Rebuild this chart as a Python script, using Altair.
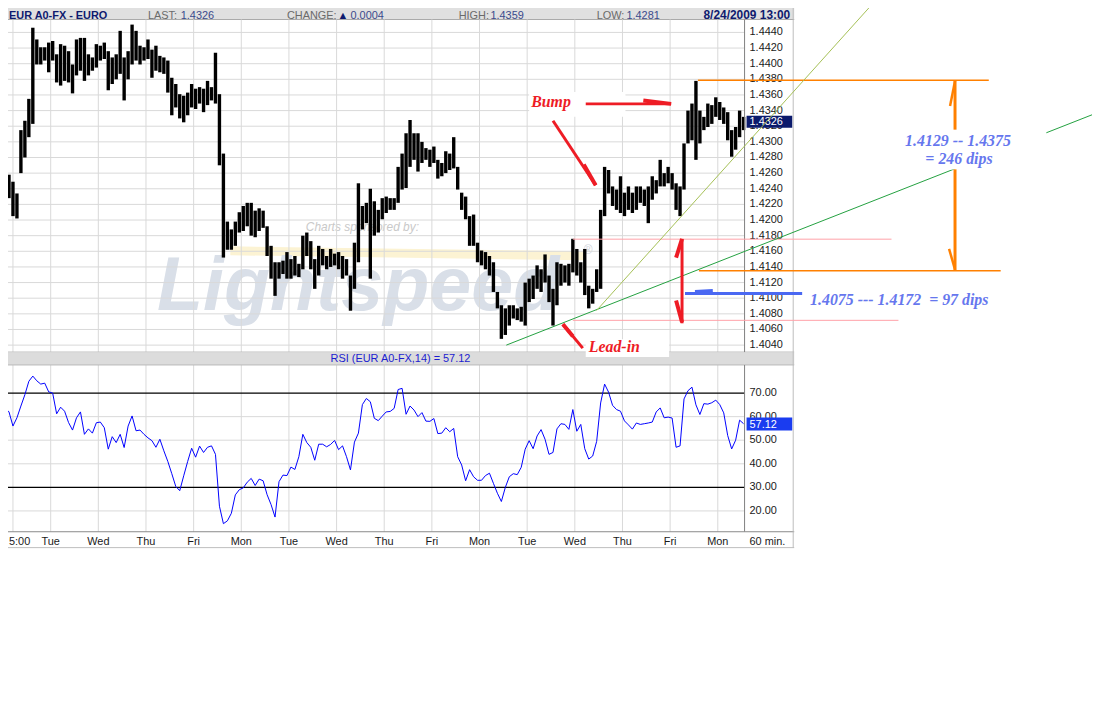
import altair as alt
import pandas as pd

# ---------------- values ----------------
bar_first_hour = 0          # hour index of first bar (2 px per hour on the chart)
bar_step_hours = 2          # one bar per two hours

price_high = [
    1.4296, 1.4262, 1.4258, 1.4249, 1.4234, 1.4315, 1.4327, 1.4355, 1.4446, 1.4431,
    1.4421, 1.4421, 1.4427, 1.4429, 1.4412, 1.4425, 1.4423, 1.4416, 1.4399, 1.4431,
    1.4433, 1.4433, 1.4412, 1.4408, 1.4425, 1.4423, 1.4427, 1.4416, 1.4408, 1.4412,
    1.4442, 1.4408, 1.4416, 1.4450, 1.4442, 1.4423, 1.4421, 1.4431, 1.4418, 1.4423,
    1.4410, 1.4408, 1.4404, 1.4382, 1.4374, 1.4361, 1.4359, 1.4363,
    1.4374, 1.4368, 1.4370, 1.4368, 1.4378, 1.4370, 1.4414, 1.4361, 1.4285, 1.4198,
    1.4188, 1.4198, 1.4210, 1.4218, 1.4222, 1.4222, 1.4212, 1.4215, 1.4212, 1.4192,
    1.4167, 1.4146, 1.4146, 1.4148, 1.4159, 1.4150, 1.4154, 1.4144, 1.4180, 1.4184,
    1.4173, 1.4150, 1.4167, 1.4163, 1.4154, 1.4163, 1.4157, 1.4159, 1.4154, 1.4150,
    1.4129, 1.4171, 1.4247, 1.4218, 1.4222, 1.4240,
    1.4224, 1.4213, 1.4228, 1.4230, 1.4228, 1.4228, 1.4268, 1.4285, 1.4311, 1.4328,
    1.4311, 1.4311, 1.4300, 1.4292, 1.4290, 1.4294, 1.4277, 1.4273, 1.4288, 1.4285,
    1.4306, 1.4268, 1.4235, 1.4230, 1.4205, 1.4207, 1.4171, 1.4161, 1.4159, 1.4154,
    1.4146, 1.4108, 1.4091, 1.4087, 1.4091, 1.4091, 1.4087, 1.4089, 1.4120, 1.4125,
    1.4129, 1.4142, 1.4137, 1.4156, 1.4129, 1.4112,
    1.4146, 1.4144, 1.4142, 1.4144, 1.4176, 1.4163, 1.4146, 1.4163, 1.4116, 1.4112,
    1.4137, 1.4213, 1.4268, 1.4264, 1.4243, 1.4239, 1.4256, 1.4235, 1.4243, 1.4235,
    1.4243, 1.4243, 1.4239, 1.4243, 1.4256, 1.4251, 1.4277, 1.4260, 1.4268, 1.4260,
    1.4247, 1.4243, 1.4298, 1.4340, 1.4349, 1.4378, 1.4340, 1.4332, 1.4349, 1.4347,
    1.4357, 1.4351, 1.4344, 1.4338, 1.4315, 1.4319, 1.4340, 1.4332,
]
price_low = [
    1.4249, 1.4228, 1.4228, 1.4205, 1.4202, 1.4260, 1.4280, 1.4306, 1.4323, 1.4399,
    1.4399, 1.4404, 1.4389, 1.4404, 1.4376, 1.4372, 1.4378, 1.4376, 1.4362, 1.4385,
    1.4391, 1.4378, 1.4385, 1.4391, 1.4395, 1.4404, 1.4406, 1.4366, 1.4374, 1.4380,
    1.4387, 1.4353, 1.4380, 1.4399, 1.4404, 1.4399, 1.4404, 1.4406, 1.4382, 1.4391,
    1.4389, 1.4387, 1.4363, 1.4334, 1.4344, 1.4330, 1.4325, 1.4334,
    1.4344, 1.4342, 1.4349, 1.4338, 1.4347, 1.4353, 1.4349, 1.4270, 1.4152, 1.4162,
    1.4162, 1.4167, 1.4184, 1.4186, 1.4192, 1.4180, 1.4178, 1.4186, 1.4190, 1.4154,
    1.4125, 1.4103, 1.4125, 1.4131, 1.4125, 1.4125, 1.4129, 1.4127, 1.4137, 1.4154,
    1.4137, 1.4112, 1.4129, 1.4142, 1.4137, 1.4140, 1.4142, 1.4137, 1.4125, 1.4129,
    1.4084, 1.4112, 1.4146, 1.4188, 1.4196, 1.4125,
    1.4180, 1.4184, 1.4201, 1.4209, 1.4213, 1.4213, 1.4222, 1.4239, 1.4241, 1.4268,
    1.4277, 1.4262, 1.4273, 1.4277, 1.4268, 1.4273, 1.4253, 1.4256, 1.4260, 1.4264,
    1.4266, 1.4239, 1.4213, 1.4201, 1.4167, 1.4167, 1.4146, 1.4142, 1.4137, 1.4129,
    1.4108, 1.4087, 1.4048, 1.4053, 1.4065, 1.4074, 1.4072, 1.4070, 1.4065, 1.4095,
    1.4099, 1.4112, 1.4108, 1.4120, 1.4095, 1.4065,
    1.4091, 1.4116, 1.4120, 1.4116, 1.4133, 1.4129, 1.4120, 1.4104, 1.4087, 1.4093,
    1.4108, 1.4112, 1.4205, 1.4234, 1.4218, 1.4213, 1.4209, 1.4205, 1.4213, 1.4209,
    1.4213, 1.4222, 1.4218, 1.4196, 1.4226, 1.4234, 1.4243, 1.4243, 1.4247, 1.4239,
    1.4213, 1.4205, 1.4239, 1.4298, 1.4302, 1.4277, 1.4298, 1.4315, 1.4319, 1.4323,
    1.4332, 1.4328, 1.4323, 1.4302, 1.4281, 1.4290, 1.4306, 1.4315,
]
rsi_values = [
    66.5, 63.7, 62, 56, 59.5, 64.5, 69.3, 75, 77.2, 75.2,
    73.8, 74.2, 70.5, 70, 61.2, 64, 62.3, 57.5, 54.3, 59.5,
    62, 52.5, 54.8, 53, 57.4, 57.7, 55.3, 46.2, 51.5, 49,
    52.5, 46.9, 56, 60.3, 54, 54.3, 52.5, 51, 49.8, 47,
    50.4, 45.5, 41, 35.8, 30.4, 28.6, 34.9, 41, 46.6, 42.8,
    47.5, 44.8, 47, 47.6, 44, 22, 14.6, 15.8, 19, 26.8,
    29, 29.8, 32.2, 33.8, 30.8, 33.5, 32.8, 26.9, 22.7, 17.4,
    32.4, 35.2, 35, 38.6, 37.6, 43, 52.5, 49, 47, 41.5,
    48.3, 48.3, 47.2, 48.2, 49.9, 46, 47.6, 43, 37.4, 49.2,
    53, 65.1, 67.7, 66.3, 59.3, 58.3, 60.2, 62, 62.2, 63.5,
    71.5, 72, 61, 64.5, 62.8, 60, 61.7, 58.1, 58, 59.2,
    52.8, 53, 55.3, 53.6, 55, 43, 39.5, 32.8, 37.5, 34.5,
    33, 33, 35, 36, 31.7, 27.5, 24, 30, 34.5, 35.8,
    35.4, 38.5, 46.2, 49.8, 46.4, 51.8, 54.5, 50.4, 44, 44.8,
    54.8, 57, 56.7, 54.6, 63, 53.8, 56.7, 46.4, 42, 43.3,
    49.5, 65.8, 73.8, 70.4, 64.8, 63, 62.3, 58.2, 56.5, 54.7,
    57.3, 56.7, 57, 57.3, 57.7, 62, 63.7, 59.5, 59.8, 59.4,
    47, 47.6, 67.5, 71, 72.5, 65, 60.9, 65.5, 65.3, 65.9,
    67, 65.1, 61.6, 52, 46.3, 50, 58.5, 57,
]

price_ticks = [1.4040, 1.4060, 1.4080, 1.4100, 1.4120, 1.4140, 1.4160, 1.4180, 1.4200, 1.4220, 1.4240,
               1.4260, 1.4280, 1.4300, 1.4320, 1.4340, 1.4360, 1.4380, 1.4400, 1.4420, 1.4440]
price_tick_labels = ["1.4040", "1.4060", "1.4080", "1.4100", "1.4120", "1.4140", "1.4160", "1.4180", "1.4200",
                     "1.4220", "1.4240", "1.4260", "1.4280", "1.4300", "1.4320", "1.4340", "1.4360", "1.4380",
                     "1.4400", "1.4420", "1.4440"]
rsi_ticks = [20, 30, 40, 50, 60, 70]
rsi_tick_labels = ["20.00", "30.00", "40.00", "50.00", "60.00", "70.00"]
rsi_grid_levels = [20, 40, 50, 60]
rsi_band_levels = [30, 70]
day_hours = [6, 25, 49, 73, 97, 121, 145, 169, 193, 217, 241, 265, 289, 313, 337, 361]
day_labels = ["5:00", "Tue", "Wed", "Thu", "Fri", "Mon", "Tue", "Wed", "Thu", "Fri",
              "Mon", "Tue", "Wed", "Thu", "Fri", "Mon"]

# annotation geometry in (hour, price) units: (h, p, h2, p2)
pink_levels = [(288, 1.41755, 448.5, 1.41755), (288, 1.40717, 452, 1.40717)]
orange_levels = [(351, 1.43787, 497.5, 1.43787), (351.5, 1.41352, 503.5, 1.41352)]
orange_arrow = [(480.5, 1.43791, 480.5, 1.43156), (480.5, 1.42648, 480.5, 1.41352)]
orange_heads = [(478, 1.43460, 480.5, 1.43778), (477.5, 1.41632, 480.5, 1.41365)]
red_arrows = [(343, 1.41759, 343, 1.40679), (294.5, 1.43486, 337.5, 1.43486),
              (278, 1.43270, 299.5, 1.42445), (293, 1.40362, 283, 1.40667)]
red_heads = [(340, 1.41518, 343, 1.41759), (340, 1.40972, 343, 1.40692), (323.5, 1.43530, 337.5, 1.43486),
             (293.5, 1.42711, 299.5, 1.42445), (288, 1.40514, 283, 1.40667)]
blue_arrow = [(344.5, 1.41060, 403.5, 1.41060), (349.5, 1.41086, 358.5, 1.41099)]
lead_in_trend = [(254.5, 1.40400, 549.5, 1.43346)]
bump_trend = [(300, 1.40844, 439.5, 1.44781)]
white_boxes = [(266, 1.43638, 314.5, 1.43321), (294.5, 1.40476, 336.5, 1.40248), (452, 1.43156, 526.5, 1.42648)]
red_notes = [(267, 1.43511, "Bump"), (296, 1.40375, "Lead-in")]
blue_notes_center = [(482, 1.43016, "1.4129 -- 1.4375"), (482.5, 1.42775, "= 246 dips")]
blue_notes_left = [(407.5, 1.40971, "1.4075 --- 1.4172 \u00a0= 97 dips")]

# ---------------- chart ----------------
W, H = 1102, 712
SANS = "Liberation Sans"
SERIF = "Liberation Serif"
xs = alt.Scale(domain=[-0.5, 550.5], nice=False, zero=False)
ps = alt.Scale(domain=[1.357397, 1.44781], nice=False, zero=False)
rs = alt.Scale(domain=[-64.19, 235.6], nice=False, zero=False)


def ex(f):
    return alt.X(f + ":Q", scale=xs, axis=None)


def ep(f):
    return alt.Y(f + ":Q", scale=ps, axis=None)


def er(f):
    return alt.Y(f + ":Q", scale=rs, axis=None)


one = pd.DataFrame({"k": [0]})


def box(x0, x1, y0, y1, fill):
    return alt.Chart(one).mark_rect(fill=fill).encode(
        x=alt.value(x0), x2=alt.value(x1), y=alt.value(y0), y2=alt.value(y1))


def pline(x0, y0, x1, y1, color, w=1):
    return alt.Chart(one).mark_rule(color=color, strokeWidth=w).encode(
        x=alt.value(x0), y=alt.value(y0), x2=alt.value(x1), y2=alt.value(y1))


def ptext(x, y, s, size=11, color="#1a1a1a", weight="normal", style="normal", font=SANS,
          align="left", baseline="middle"):
    return alt.Chart(one).mark_text(text=s, fontSize=size, color=color, fontWeight=weight,
                                    fontStyle=style, font=font, align=align, baseline=baseline).encode(
        x=alt.value(x), y=alt.value(y))


def segs(rows, color, w):
    df = pd.DataFrame(rows, columns=["h", "p", "h2", "p2"])
    return alt.Chart(df).mark_rule(color=color, strokeWidth=w).encode(
        x=ex("h"), y=ep("p"), x2="h2:Q", y2="p2:Q")


layers = []

# header strip
layers.append(box(0, 800, 0, 17, "#e0e0e0"))
layers.append(pline(0, 17, 800, 17, "#a9a9a9"))
layers.append(ptext(9, 16, "EUR A0-FX - EURO", size=11, color="#0e1a6e", weight="bold", baseline="alphabetic"))
for x0, s, c in [(149, "LAST:", "#6a6a6a"), (182, "1.4326", "#3a4a8c"),
                 (289, "CHANGE:", "#6a6a6a"), (340, "\u25b2", "#0e1a6e"), (353, "0.0004", "#3a4a8c"),
                 (462, "HIGH:", "#6a6a6a"), (494, "1.4359", "#3a4a8c"),
                 (601, "LOW:", "#6a6a6a"), (631, "1.4281", "#3a4a8c")]:
    layers.append(ptext(x0, 16, s, size=11, color=c, baseline="alphabetic"))
layers.append(ptext(796, 16, "8/24/2009 13:00", size=12, color="#0e1a6e", weight="bold",
                    align="right", baseline="alphabetic"))

# watermark
layers.append(pline(232, 250, 590, 255, "#fcf3d3", 9))
layers.append(ptext(158, 310, "Lightspeed", size=76, color="#d9dfe8", weight="bold", style="italic",
                    baseline="alphabetic"))
layers.append(ptext(588, 249, "\u00ae", size=12, color="#d0d4dc"))
layers.append(ptext(308, 226, "Charts sponsored by:", size=12, color="#c9c9c9", style="italic"))

# grid
layers.append(alt.Chart(pd.DataFrame({"p": price_ticks})).mark_rule(color="#d9d9d9").encode(
    y=ep("p"), x=alt.value(0), x2=alt.value(750)))
days = pd.DataFrame({"h": day_hours, "lab": day_labels})
layers.append(alt.Chart(days).mark_rule(color="#d9d9d9").encode(x=ex("h"), y=alt.value(17), y2=alt.value(352)))
layers.append(alt.Chart(days).mark_rule(color="#d9d9d9").encode(x=ex("h"), y=alt.value(365), y2=alt.value(533)))
layers.append(alt.Chart(pd.DataFrame({"r": rsi_grid_levels})).mark_rule(color="#d9d9d9").encode(
    y=er("r"), x=alt.value(0), x2=alt.value(750)))
layers.append(alt.Chart(pd.DataFrame({"r": rsi_band_levels})).mark_rule(color="#000000", strokeWidth=1.2).encode(
    y=er("r"), x=alt.value(0), x2=alt.value(750)))

# price bars and RSI line
hours = [bar_first_hour + bar_step_hours * i for i in range(len(price_high))]
bars = pd.DataFrame({"h": hours, "hi": price_high, "lo": price_low})
layers.append(alt.Chart(bars).mark_rule(color="#000000", strokeWidth=3.4).encode(
    x=ex("h"), y=ep("lo"), y2="hi:Q"))
rsi = pd.DataFrame({"h": hours[:len(rsi_values)], "r": rsi_values})
layers.append(alt.Chart(rsi).mark_line(color="#0000ff", strokeWidth=1).encode(x=ex("h"), y=er("r")))

# frames
layers.append(pline(0, 352, 800, 352, "#b8b8b8"))
layers.append(box(0, 800, 353, 365, "#dcdcdc"))
layers.append(pline(0, 365, 800, 365, "#b8b8b8"))
layers.append(pline(750, 17, 750, 352, "#7f7f7f"))
layers.append(pline(750, 365, 750, 533, "#7f7f7f"))
layers.append(pline(0, 533, 800, 533, "#8a8a8a"))
layers.append(pline(0, 549, 800, 549, "#bdbdbd"))
layers.append(pline(799, 0, 799, 549, "#bdbdbd"))
layers.append(ptext(333, 359, "RSI (EUR A0-FX,14) = 57.12", size=11, color="#1c1cd0"))

# axis labels
layers.append(alt.Chart(pd.DataFrame({"p": price_ticks, "t": price_tick_labels})).mark_text(
    align="left", baseline="middle", font=SANS, fontSize=11, color="#1a1a1a").encode(
    x=alt.value(755), y=ep("p"), text="t:N"))
layers.append(alt.Chart(pd.DataFrame({"r": rsi_ticks, "t": rsi_tick_labels})).mark_text(
    align="left", baseline="middle", font=SANS, fontSize=11, color="#1a1a1a").encode(
    x=alt.value(755), y=er("r"), text="t:N"))
# first day label sits at the left edge: keep it fully inside the visible page
layers.append(ptext(9, 543, day_labels[0], size=11))
rest_days = pd.DataFrame({"h": day_hours[1:], "lab": day_labels[1:]})
layers.append(alt.Chart(rest_days).mark_text(align="center", baseline="middle", font=SANS, fontSize=11,
                                             color="#1a1a1a").encode(x=ex("h"), y=alt.value(543), text="lab:N"))
layers.append(ptext(755, 543, "60 min.", size=11))

# last-value boxes
layers.append(box(752, 798, 114, 126, "#0b1a6c"))
layers.append(ptext(755, 120.5, "1.4326", size=11, color="#ffffff"))
layers.append(box(752, 798, 418, 431, "#1a3cf0"))
layers.append(ptext(755, 425, "57.12", size=11, color="#ffffff"))

# annotations
layers.append(segs(pink_levels, "#ffa0a8", 1))
layers.append(segs(orange_levels, "#ff8000", 1.5))
layers.append(segs(lead_in_trend, "#22a040", 1))
layers.append(segs(bump_trend, "#a4bf55", 1))
wb = pd.DataFrame(white_boxes, columns=["h", "p", "h2", "p2"])
layers.append(alt.Chart(wb).mark_rect(fill="#ffffff").encode(x=ex("h"), x2="h2:Q", y=ep("p"), y2="p2:Q"))
layers.append(segs(orange_arrow, "#ff8000", 3))
layers.append(segs(orange_heads, "#ff8000", 2.5))
layers.append(segs(red_arrows, "#ee1c25", 3))
layers.append(segs(red_heads, "#ee1c25", 4))
layers.append(segs(blue_arrow, "#4a68f2", 3))

rn = pd.DataFrame(red_notes, columns=["h", "p", "t"])
layers.append(alt.Chart(rn).mark_text(align="left", baseline="middle", font=SERIF, fontSize=16,
                                      fontStyle="italic", fontWeight="bold", color="#ee1c25").encode(
    x=ex("h"), y=ep("p"), text="t:N"))
bc = pd.DataFrame(blue_notes_center, columns=["h", "p", "t"])
layers.append(alt.Chart(bc).mark_text(align="center", baseline="middle", font=SERIF, fontSize=16,
                                      fontStyle="italic", fontWeight="bold", color="#6677ee").encode(
    x=ex("h"), y=ep("p"), text="t:N"))
bl = pd.DataFrame(blue_notes_left, columns=["h", "p", "t"])
layers.append(alt.Chart(bl).mark_text(align="left", baseline="middle", font=SERIF, fontSize=16,
                                      fontStyle="italic", fontWeight="bold", color="#6677ee").encode(
    x=ex("h"), y=ep("p"), text="t:N"))

chart = alt.layer(*layers).resolve_scale(y="independent").properties(
    width=W, height=H,
    autosize=alt.AutoSizeParams(type="none"),
    padding={"left": -8, "top": -8, "right": 0, "bottom": 0},
    background="#ffffff",
).configure_view(stroke=None)

chart.save("out.html", embed_options={"renderer": "svg", "actions": False})
